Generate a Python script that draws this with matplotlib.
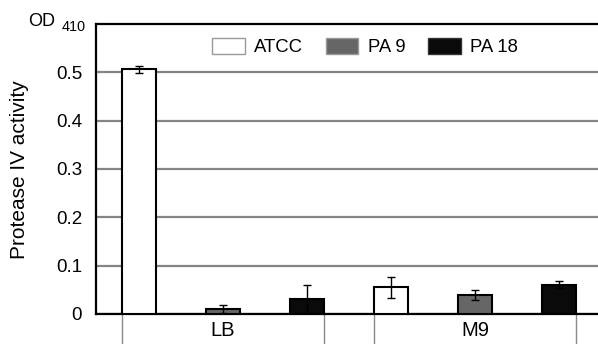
import matplotlib
matplotlib.use("Agg")
import matplotlib.pyplot as plt
import numpy as np

plt.rcParams["font.family"] = ["Liberation Sans", "DejaVu Sans"]

# ---- data ----
media = ["LB", "M9"]
strains = ["ATCC", "PA 9", "PA 18"]
values = {
    "LB": [0.506, 0.011, 0.031],
    "M9": [0.055, 0.039, 0.061],
}
errors = {
    "LB": [0.007, 0.008, 0.029],
    "M9": [0.021, 0.010, 0.008],
}
y_ticks = [0, 0.1, 0.2, 0.3, 0.4, 0.5]
y_tick_labels = ["0", "0.1", "0.2", "0.3", "0.4", "0.5"]

FILLS = ["#ffffff", "#666666", "#0a0a0a"]
GRID = "#858585"
SEP = "#8a8a8a"
BAR_W = 0.405

fig = plt.figure(figsize=(5.98, 3.44), dpi=100)
ax = fig.add_axes([96 / 598, 1 - 314 / 344, 1 - 96 / 598, (314 - 24) / 344])

x = 0
edges = []
for m in media:
    xs = np.arange(len(strains)) + x
    for i, s in enumerate(strains):
        ax.bar(xs[i], values[m][i], width=BAR_W, color=FILLS[i],
               edgecolor="black", linewidth=1.5, zorder=3,
               label=s if m == media[0] else None)
        ax.errorbar(xs[i], values[m][i], yerr=errors[m][i], fmt="none",
                    ecolor="black", elinewidth=1.0, capsize=3, capthick=1.0,
                    zorder=4)
    edges += [xs[0] - BAR_W / 2, xs[-1] + BAR_W / 2]
    x += len(strains)

ax.set_xlim(-0.512, 5.464)
ax.set_ylim(0, 0.6)

# grid
ax.set_yticks(y_ticks)
ax.set_yticklabels(y_tick_labels, fontsize=13.5)
ax.yaxis.grid(True, color=GRID, linewidth=1.6, zorder=1)
ax.set_axisbelow(True)
ax.tick_params(axis="y", length=0, pad=10)

# group separators below the axis + group labels
ax.set_xticks(edges)
ax.set_xticklabels([""] * len(edges))
ax.tick_params(axis="x", which="major", direction="out", length=22,
               width=1.0, color=SEP)
ax.set_xticks([1, 4], minor=True)
ax.set_xticklabels(media, minor=True, fontsize=14.5)
ax.tick_params(axis="x", which="minor", length=0, pad=5)

for s in ("left", "bottom", "top"):
    ax.spines[s].set_linewidth(1.6)
    ax.spines[s].set_color("black")
ax.spines["right"].set_visible(False)

leg = ax.legend(loc="center", bbox_to_anchor=(365 / 598, 1 - 47 / 344),
                bbox_transform=fig.transFigure, ncol=3, frameon=False,
                fontsize=13.3, handlelength=1.75, handleheight=0.95,
                handletextpad=0.5, columnspacing=1.25, borderpad=0)
for h, ec in zip(leg.legend_handles, ["#999999", "#999999", "#333333"]):
    h.set_edgecolor(ec)
    h.set_linewidth(1.0)

fig.text(20 / 598, 1 - 170 / 344, "Protease IV activity", rotation=90,
         ha="center", va="center", fontsize=15)
fig.text(28 / 598, 1 - 26 / 344, "OD", ha="left", va="baseline", fontsize=13)
fig.text(62 / 598, 1 - 31 / 344, "410", ha="left", va="baseline", fontsize=10.4)

fig.savefig("out.png", dpi=100)
